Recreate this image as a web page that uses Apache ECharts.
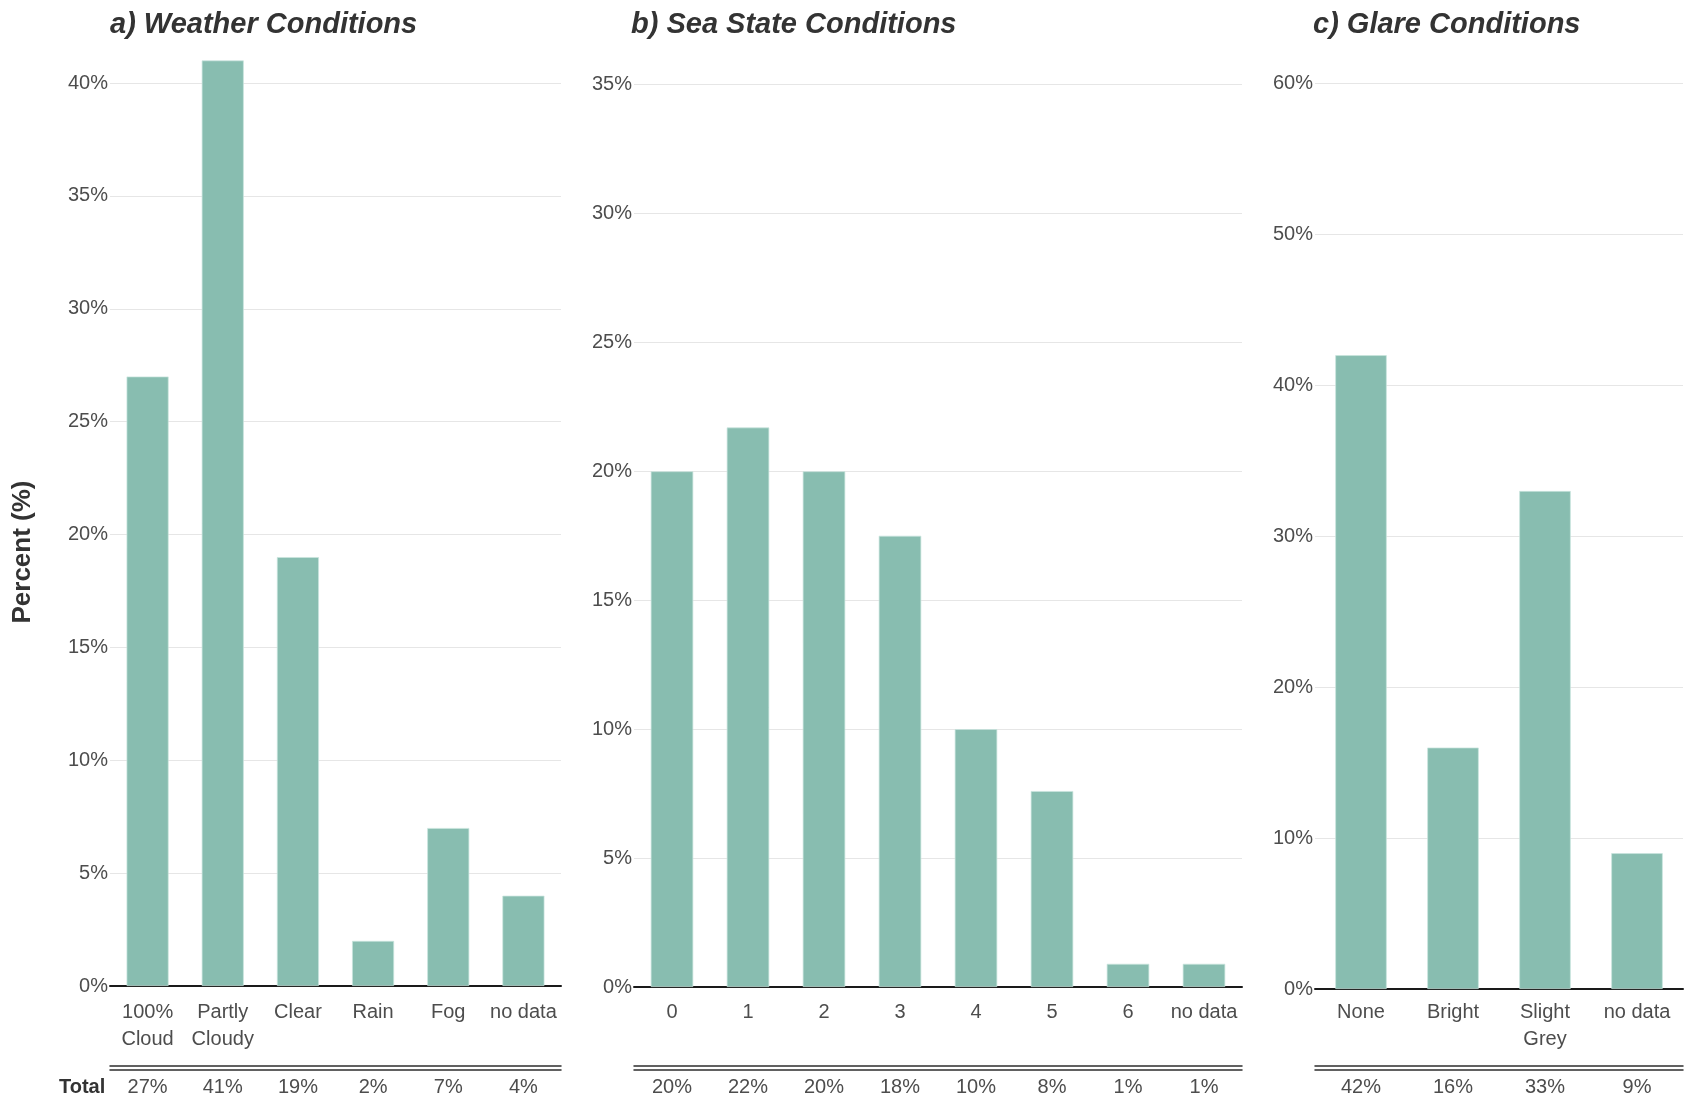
<!DOCTYPE html>
<html>
<head>
<meta charset="utf-8">
<script src="https://cdn.jsdelivr.net/npm/echarts@6/dist/echarts.min.js"></script>
<style>
  html, body { margin: 0; padding: 0; background: #ffffff; }
  #chart { width: 1690px; height: 1099px; }
</style>
</head>
<body>
<div id="chart"></div>
<script>
// ---- Data ----
const weatherCategories = ['100%\nCloud', 'Partly\nCloudy', 'Clear', 'Rain', 'Fog', 'no data'];
const weatherValues = [27, 41, 19, 2, 7, 4];

const seaCategories = ['0', '1', '2', '3', '4', '5', '6', 'no data'];
const seaValues = [20.0, 21.7, 20.0, 17.5, 10.0, 7.6, 0.9, 0.9];

const glareCategories = ['None', 'Bright', 'Slight\nGrey', 'no data'];
const glareValues = [42, 16, 33, 9];

const panelTitles = ['a) Weather Conditions', 'b) Sea State Conditions', 'c) Glare Conditions'];
const yAxisTitle = 'Percent (%)';
const totalLabel = 'Total';

// ---- Layout / style ----
const FONT = '"Liberation Sans", Arial, Helvetica, sans-serif';
const BAR = '#88bdb0';
const TXT = '#4d4d4d';
const DARK = '#333333';

const panels = [
  { cats: weatherCategories, vals: weatherValues, left: 110, width: 451, base: 986, topVal: 40, topY: 83, max: 41, interval: 5, titleLeft: 105 },
  { cats: seaCategories, vals: seaValues, left: 634, width: 608, base: 987, topVal: 35, topY: 84.5, max: 35, interval: 5, titleLeft: 626 },
  { cats: glareCategories, vals: glareValues, left: 1315, width: 368, base: 989, topVal: 60, topY: 83.5, max: 60, interval: 10, titleLeft: 1308 }
];

const grid = [], xAxis = [], yAxis = [], series = [], title = [];

panels.forEach((p, i) => {
  const pxPer = (p.base - p.topY) / p.topVal;
  const top = p.base - p.max * pxPer;
  grid.push({ left: p.left, width: p.width, top: top, height: p.base - top, containLabel: false, outerBoundsMode: 'none' });

  // main category axis
  xAxis.push({
    type: 'category', gridIndex: i, data: p.cats, position: 'bottom',
    axisLine: { onZero: false, lineStyle: { color: '#1a1a1a', width: 2 } },
    axisTick: { show: false },
    axisLabel: { interval: 0, color: TXT, fontSize: 20, fontFamily: FONT, lineHeight: 27, margin: 999 - p.base }
  });
  // upper rule of double line
  xAxis.push({
    type: 'category', gridIndex: i, data: p.cats, position: 'bottom', offset: 1065.5 - p.base,
    axisLine: { onZero: false, lineStyle: { color: '#2e2e2e', width: 1.5 } },
    axisTick: { show: false }, axisLabel: { show: false }, splitLine: { show: false }
  });
  // lower rule + totals row
  const vals = p.vals;
  xAxis.push({
    type: 'category', gridIndex: i, data: p.cats, position: 'bottom', offset: 1069.5 - p.base,
    axisLine: { onZero: false, lineStyle: { color: '#2e2e2e', width: 1.5 } },
    axisTick: { show: false }, splitLine: { show: false },
    axisLabel: {
      interval: 0, color: TXT, fontSize: 20, fontFamily: FONT, lineHeight: 20, margin: 8,
      formatter: (v, idx) => Math.round(vals[idx]) + '%'
    }
  });

  yAxis.push({
    type: 'value', gridIndex: i, min: 0, max: p.max, interval: p.interval,
    axisLine: { show: false }, axisTick: { show: false },
    axisLabel: { formatter: '{value}%', color: TXT, fontSize: 20, fontFamily: FONT, margin: 2, showMaxLabel: p.max === p.topVal },
    splitLine: { show: true, showMinLine: false, showMaxLine: p.max === p.topVal, lineStyle: { color: '#e6e6e6', width: 1 } }
  });

  series.push({
    type: 'bar', xAxisIndex: i * 3, yAxisIndex: i, data: p.vals,
    barWidth: '56%',
    itemStyle: { color: BAR, borderColor: 'rgba(200,228,221,0.9)', borderWidth: 0.8 },
    silent: true, animation: false
  });

  title.push({
    text: panelTitles[i], left: p.titleLeft, top: 5,
    textStyle: { fontFamily: FONT, fontSize: 29, fontWeight: 'bold', fontStyle: 'italic', color: DARK }
  });
});

title.push({
  text: totalLabel, left: 54, top: 1072,
  textStyle: { fontFamily: FONT, fontSize: 20, fontWeight: 'bold', color: DARK, lineHeight: 20 }
});

const chart = echarts.init(document.getElementById('chart'), null, { renderer: 'canvas' });
chart.setOption({
  backgroundColor: '#ffffff',
  animation: false,
  title: title,
  grid: grid,
  xAxis: xAxis,
  yAxis: yAxis,
  series: series,
  graphic: [{
    type: 'text', x: 23, y: 552, rotation: Math.PI / 2,
    style: { text: yAxisTitle, fontFamily: FONT, fontSize: 26, fontWeight: 'bold', fill: DARK, align: 'center', verticalAlign: 'middle' }
  }]
});
</script>
</body>
</html>
